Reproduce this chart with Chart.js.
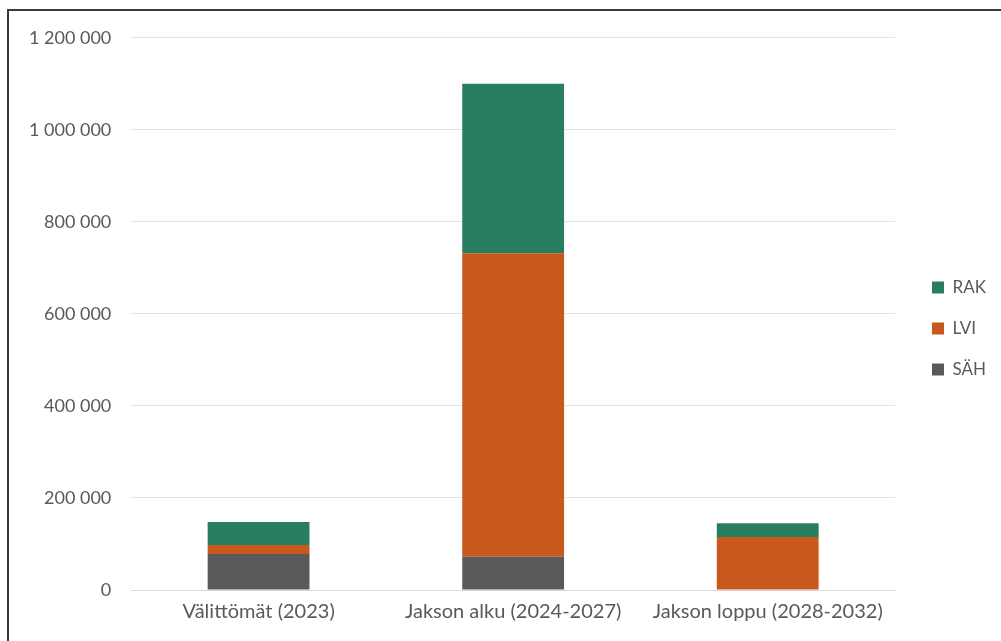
<!DOCTYPE html>
<html>
<head>
<meta charset="utf-8">
<script src="https://cdn.jsdelivr.net/npm/chart.js@4/dist/chart.umd.min.js"></script>
<style>
  html, body { margin: 0; padding: 0; background: #fff; }
  #frame {
    position: absolute; left: 7px; top: 9px; width: 1000px; height: 640px;
    border-left: 2px solid #3a3a3a; border-top: 2px solid #3a3a3a;
  }
  #wrap { position: absolute; left: 0; top: -4px; width: 992px; height: 627px; }
</style>
</head>
<body>
<div id="frame"><div id="wrap"><canvas id="chart"></canvas></div></div>
<script>
// kategoriat ja sarjat
var categories = ["Välittömät (2023)", "Jakson alku (2024-2027)", "Jakson loppu (2028-2032)"];
var sahValues = [78000, 72000, 0];
var lviValues = [20000, 660000, 115000];
var rakValues = [50000, 368000, 30000];
var yTicks = [0, 200000, 400000, 600000, 800000, 1000000, 1200000];

function fmt(v) {
    return String(v).replace(/\B(?=(\d{3})+(?!\d))/g, " ");
}

var fontFam = "Lato, 'Open Sans', sans-serif";

// legend kiinteän levyiseksi ja hieman oikealle
var legendGap = {
    id: "legendGap",
    beforeInit: function (chart) {
        var origFit = chart.legend.fit;
        chart.legend.fit = function () {
            origFit.bind(chart.legend)();
            this.width = 106;
        };
    },
    afterLayout: function (chart) {
        chart.legend.left += 13;
        chart.legend.right += 13;
        chart.legend.top += 6;
        chart.legend.bottom += 6;
    }
};

const ctx = document.getElementById("chart").getContext("2d");
new Chart(ctx, {
    type: "bar",
    data: {
        labels: categories,
        datasets: [
            { label: "SÄH", data: sahValues, backgroundColor: "#5a5a5a", borderWidth: 0 },
            { label: "LVI", data: lviValues, backgroundColor: "#c9581d", borderWidth: 0 },
            { label: "RAK", data: rakValues, backgroundColor: "#2a7e60", borderWidth: 0 }
        ]
    },
    options: {
        responsive: true,
        maintainAspectRatio: false,
        animation: false,
        layout: { padding: { left: 0, right: 0, top: 4, bottom: 0 } },
        datasets: { bar: { categoryPercentage: 1.0, barPercentage: 0.4 } },
        scales: {
            x: {
                stacked: true,
                grid: { display: false, drawTicks: false },
                border: { display: true, color: "#d9d9d9", width: 1 },
                ticks: { color: "#595959", font: { family: fontFam, size: 20 }, padding: 10 }
            },
            y: {
                stacked: true,
                min: 0, max: 1200000,
                afterBuildTicks: function (axis) {
                    axis.ticks = yTicks.map(function (v) { return { value: v }; });
                },
                grid: { color: "#e3e3e3", drawTicks: false },
                border: { display: false },
                ticks: {
                    color: "#595959", font: { family: fontFam, size: 18 }, padding: 20,
                    callback: function (v) { return fmt(v); }
                }
            }
        },
        plugins: {
            legend: {
                position: "right",
                reverse: true,
                labels: {
                    boxWidth: 12, boxHeight: 12, padding: 24,
                    color: "#595959", font: { family: fontFam, size: 17 }
                }
            },
            tooltip: { enabled: false }
        }
    },
    plugins: [legendGap]
});
</script>
</body>
</html>
